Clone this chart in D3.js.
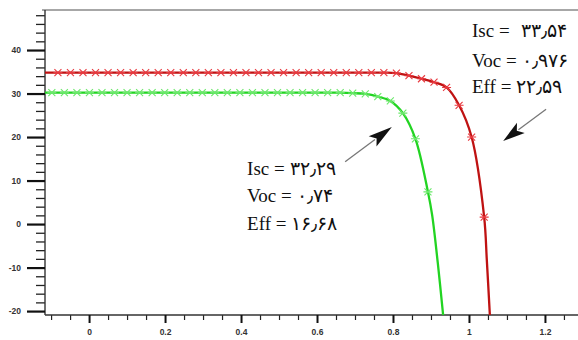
<!DOCTYPE html>
<html>
<head>
<meta charset="utf-8">
<script src="https://cdn.jsdelivr.net/npm/d3@7"></script>
<style>
  html, body { margin: 0; padding: 0; background: #fff; }
  svg { display: block; }
</style>
</head>
<body>
<svg id="chart" width="578" height="340"></svg>
<script>
// I-V curves of two cells: measured samples (drawn with markers)
const redVolts = [-0.082, -0.049, -0.016, 0.017, 0.050, 0.083, 0.116, 0.149, 0.182, 0.215,
                  0.248, 0.281, 0.314, 0.347, 0.380, 0.413, 0.446, 0.479, 0.512, 0.545,
                  0.578, 0.611, 0.644, 0.677, 0.710, 0.743, 0.776, 0.809, 0.842, 0.875,
                  0.908, 0.941, 0.974, 1.007, 1.040];
const redAmps  = [34.8, 34.8, 34.8, 34.8, 34.8, 34.8, 34.8, 34.8, 34.8, 34.8,
                  34.8, 34.8, 34.8, 34.8, 34.8, 34.8, 34.8, 34.8, 34.8, 34.8,
                  34.8, 34.8, 34.8, 34.8, 34.8, 34.8, 34.8, 34.7, 34.1, 33.4,
                  32.6, 31.4, 27.3, 20.0, 1.6];
// unmarked ends of the red trace
const redHeadVolts = [-0.116];
const redHeadAmps  = [34.8];
const redTailVolts = [1.047, 1.055];
const redTailAmps  = [-8.3, -20.9];

const greenVolts = [-0.098, -0.065, -0.032, 0.001, 0.034, 0.067, 0.100, 0.133, 0.166, 0.199,
                    0.232, 0.265, 0.298, 0.331, 0.364, 0.397, 0.430, 0.463, 0.496, 0.529,
                    0.562, 0.595, 0.628, 0.661, 0.694, 0.727, 0.760, 0.793, 0.826, 0.859,
                    0.892];
const greenAmps  = [30.2, 30.2, 30.2, 30.2, 30.2, 30.2, 30.2, 30.2, 30.2, 30.2,
                    30.2, 30.2, 30.2, 30.2, 30.2, 30.2, 30.2, 30.2, 30.2, 30.2,
                    30.2, 30.2, 30.2, 30.2, 30.1, 29.9, 29.3, 28.3, 25.5, 19.6,
                    7.4];
const greenHeadVolts = [-0.116];
const greenHeadAmps  = [30.2];
const greenTailVolts = [0.903, 0.918, 0.932];
const greenTailAmps  = [2.1, -9.0, -20.9];

// axis ticks
const xTicks = [0, 0.2, 0.4, 0.6, 0.8, 1, 1.2];
const xTickLabels = ["0", "0.2", "0.4", "0.6", "0.8", "1", "1.2"];
const yTicks = [-20, -10, 0, 10, 20, 30, 40];
const yTickLabels = ["-20", "-10", "0", "10", "20", "30", "40"];

// cell parameters written beside each curve: [name, value]
const redNotes   = [["Isc =", "۳۳٫۵۴"], ["Voc =", "۰٫۹۷۶"], ["Eff =", "۲۲٫۵۹"]];
const greenNotes = [["Isc =", "۳۲٫۲۹"], ["Voc =", "۰٫۷۴"], ["Eff =", "۱۶٫۶۸"]];

const svg = d3.select("#chart");
const W = 578, H = 340;
const plotL = 45, plotR = 578, plotT = 10, plotB = 315;

const x = d3.scaleLinear().domain([-0.116, 1.287]).range([plotL, plotR]);
const y = d3.scaleLinear().domain([-20.9, 49.2]).range([plotB, plotT]);

svg.append("rect").attr("width", W).attr("height", H).attr("fill", "#fff");

svg.append("defs").append("clipPath").attr("id", "plotClip")
  .append("rect").attr("x", plotL).attr("y", plotT).attr("width", plotR - plotL).attr("height", plotB - plotT);

// frame line along the top
svg.append("line")
  .attr("x1", plotL - 3).attr("x2", plotR).attr("y1", plotT).attr("y2", plotT)
  .attr("stroke", "#8a8a8a").attr("stroke-width", 1.6);

// minor ticks
const yMinor = d3.range(-20, 49, 2).filter(v => v % 10 !== 0);
const xMinor = d3.range(-0.1, 1.29, 0.05).map(v => +v.toFixed(2)).filter(v => Math.abs(v * 5 - Math.round(v * 5)) > 1e-6);

svg.append("g").attr("transform", `translate(${plotL},0)`)
  .call(d3.axisLeft(y).tickValues(yMinor).tickSize(9).tickSizeOuter(0).tickFormat(""))
  .call(g => g.select(".domain").remove())
  .call(g => g.selectAll(".tick line").attr("stroke", "#222").attr("stroke-width", 1.3));

svg.append("g").attr("transform", `translate(0,${plotB})`)
  .call(d3.axisBottom(x).tickValues(xMinor).tickSize(5).tickSizeOuter(0).tickFormat(""))
  .call(g => g.select(".domain").remove())
  .call(g => g.selectAll(".tick line").attr("stroke", "#222").attr("stroke-width", 1.2));

// major ticks and labels
const yAxis = svg.append("g").attr("transform", `translate(${plotL},0)`)
  .call(d3.axisLeft(y).tickValues(yTicks).tickSize(18).tickPadding(6).tickSizeOuter(0)
        .tickFormat((d, i) => yTickLabels[i]));
yAxis.select(".domain").attr("stroke", "#333").attr("stroke-width", 1.4)
  .attr("d", `M0,${plotT}V${plotB}`);
yAxis.selectAll(".tick line").attr("stroke", "#111").attr("stroke-width", 2.2);
yAxis.selectAll(".tick text")
  .attr("font-family", "Liberation Sans, Arial, sans-serif")
  .attr("font-size", 8.5).attr("font-weight", "bold").attr("fill", "#333");

const xAxis = svg.append("g").attr("transform", `translate(0,${plotB})`)
  .call(d3.axisBottom(x).tickValues(xTicks).tickSize(8).tickPadding(6).tickSizeOuter(0)
        .tickFormat((d, i) => xTickLabels[i]));
xAxis.select(".domain").attr("stroke", "#333").attr("stroke-width", 1.4)
  .attr("d", `M${plotL},0H${plotR}`);
xAxis.selectAll(".tick line").attr("stroke", "#111").attr("stroke-width", 2);
xAxis.selectAll(".tick text")
  .attr("font-family", "Liberation Sans, Arial, sans-serif")
  .attr("font-size", 8.5).attr("font-weight", "bold").attr("fill", "#333");

// curves
const line = d3.line().x(d => x(d[0])).y(d => y(d[1])).curve(d3.curveCatmullRom.alpha(0.5));
const zip = (vs, as) => vs.map((v, i) => [v, as[i]]);

const series = [
  { head: zip(greenHeadVolts, greenHeadAmps), pts: zip(greenVolts, greenAmps), tail: zip(greenTailVolts, greenTailAmps),
    stroke: "#22d422", mark: "#6be86b" },
  { head: zip(redHeadVolts, redHeadAmps), pts: zip(redVolts, redAmps), tail: zip(redTailVolts, redTailAmps),
    stroke: "#bf1212", mark: "#e8393f" }
];

const plot = svg.append("g").attr("clip-path", "url(#plotClip)");
series.forEach(s => {
  plot.append("path")
    .datum([...s.head, ...s.pts, ...s.tail])
    .attr("d", line)
    .attr("fill", "none").attr("stroke", s.stroke).attr("stroke-width", 2.3);
  plot.append("g").selectAll("path").data(s.pts).join("path")
    .attr("transform", d => `translate(${x(d[0])},${y(d[1])})`)
    .attr("d", "M-4.5,0H4.5M-3.5,-3.5L3.5,3.5M-3.5,3.5L3.5,-3.5")
    .attr("fill", "none").attr("stroke", s.mark).attr("stroke-width", 1.1);
});

// parameter notes
function notes(list, v, amps, gap) {
  const g = svg.append("g")
    .attr("font-family", "Liberation Serif, Times New Roman, serif")
    .attr("fill", "#111");
  list.forEach((pair, i) => {
    const t = g.append("text").attr("x", x(v)).attr("y", y(amps[i]));
    t.append("tspan").attr("font-size", 19).text(pair[0]);
    t.append("tspan").attr("font-size", 19).attr("dx", i === 0 ? gap : 5).text(pair[1]);
  });
}
notes(redNotes, 1.008, [43.0, 36.2, 30.1], 11);
notes(greenNotes, 0.416, [11.2, 5.0, -1.4], 5);

// pointer arrows
function arrow(from, to, headLen, headW) {
  const x0 = x(from[0]), y0 = y(from[1]), x1 = x(to[0]), y1 = y(to[1]);
  const dx = x1 - x0, dy = y1 - y0, len = Math.hypot(dx, dy);
  const ux = dx / len, uy = dy / len, px = -uy, py = ux;
  const bx = x1 - ux * headLen, by = y1 - uy * headLen;
  svg.append("line")
    .attr("x1", x0).attr("y1", y0).attr("x2", bx + ux * 3).attr("y2", by + uy * 3)
    .attr("stroke", "#777").attr("stroke-width", 1.3);
  const nx = bx + ux * 5, ny = by + uy * 5;
  svg.append("path")
    .attr("d", `M${x1},${y1}L${bx + px * headW / 2},${by + py * headW / 2}L${nx},${ny}L${bx - px * headW / 2},${by - py * headW / 2}Z`)
    .attr("fill", "#111");
}
arrow([0.674, 14.3], [0.797, 22.3], 24, 13);
arrow([1.203, 26.4], [1.090, 19.1], 22, 13);
</script>
</body>
</html>
